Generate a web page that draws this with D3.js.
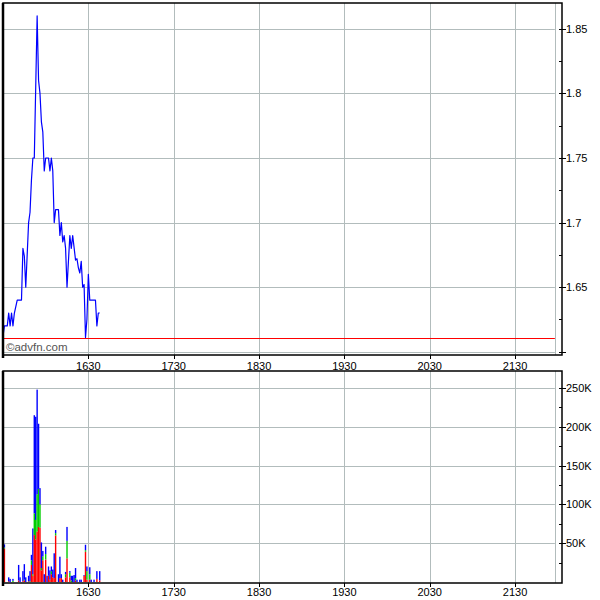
<!DOCTYPE html>
<html><head><meta charset="utf-8">
<script src="https://cdn.jsdelivr.net/npm/d3@7"></script>
<style>body{margin:0;background:#fff} svg{display:block}</style>
</head><body>
<svg id="chart" width="600" height="600"></svg>
<script>
// ---------- data ----------
const priceTimes = ["15:30","15:31","15:33","15:34","15:35","15:36","15:37","15:38","15:39","15:40","15:43","15:44","15:45","15:46","15:48","15:49","15:50","15:51","15:52","15:54","15:55","15:56","15:57","15:58","15:59","16:00","16:02","16:03","16:04","16:05","16:06","16:07","16:09","16:10","16:11","16:12","16:13","16:14","16:15","16:17","16:18","16:19","16:21","16:22","16:23","16:24","16:25","16:26","16:27","16:28","16:29","16:30","16:31","16:33","16:35","16:36","16:37","16:38"];
const prices = [1.612,1.62,1.62,1.63,1.62,1.63,1.62,1.63,1.635,1.64,1.64,1.68,1.674,1.65,1.70,1.708,1.733,1.75,1.75,1.86,1.81,1.80,1.778,1.77,1.74,1.75,1.75,1.74,1.75,1.74,1.70,1.71,1.71,1.69,1.70,1.685,1.69,1.68,1.65,1.69,1.68,1.69,1.671,1.672,1.665,1.661,1.67,1.65,1.652,1.611,1.625,1.66,1.64,1.64,1.64,1.62,1.63,1.63];

const volTimes = ["15:31","15:34","15:35","15:37","15:41","15:42","15:44","15:45","15:46","15:48","15:49","15:50","15:51","15:52","15:53","15:54","15:55","15:56","15:57","15:58","15:59","16:00","16:01","16:02","16:03","16:04","16:05","16:06","16:07","16:09","16:10","16:11","16:12","16:14","16:15","16:17","16:18","16:19","16:20","16:21","16:22","16:24","16:25","16:27","16:28","16:29","16:31","16:32","16:34","16:36","16:38"];
const volRed   = [43000,1000,0,0,2000,0,1000,2000,0,1000,0,22000,8000,60500,55000,65000,71000,70000,15000,28000,0,29000,0,8000,3000,10000,6000,5000,60000,0,5000,5000,0,6000,30500,6000,0,0,0,2000,0,0,0,8000,39000,3000,3000,0,0,4000,2000];
const volGreen = [1500,0,0,1500,0,0,0,1000,0,0,1000,6000,2000,28000,25000,48000,49000,30000,3000,5000,0,7000,0,0,0,4000,0,0,3000,0,0,0,0,4000,22500,6000,2000,0,0,3000,0,0,0,0,2000,11000,7000,0,0,0,0];
const volBlue  = [4000,5000,4000,2500,20000,6000,13000,20000,6000,7000,13000,7000,59000,126500,133000,135000,84000,21000,33000,7000,10000,9500,8000,12000,12000,6000,10000,32000,4000,10000,27600,5000,3000,3000,18000,2000,6000,8000,9000,13000,3000,3000,3000,1000,7000,6000,9000,3000,3000,10000,12000];

const xTickTimes = ["16:30","17:30","18:30","19:30","20:30","21:30"];
const xTickLabels = ["1630","1730","1830","1930","2030","2130"];
const sessionEnd = "21:58";
const priceTicks = [1.60,1.65,1.70,1.75,1.80,1.85];
const priceLabels = ["","1.65","1.7","1.75","1.8","1.85"];
const priceMinor = [1.625,1.675,1.725,1.775,1.825,1.85];
const volTicks = [50000,100000,150000,200000,250000];
const volLabels = ["50K","100K","150K","200K","250K"];
const volMinor = [25000,75000,125000,175000,225000];
const prevClose = 1.611;
const watermark = "©advfn.com";

// ---------- setup ----------
const parse = d3.timeParse("%H:%M");
const svg = d3.select("#chart");
const L = 3, R = 562;
const top1 = 3, bot1 = 355, top2 = 371, bot2 = 583;
const gridCol = "#b2bcbc";
const font = "Arial, 'Liberation Sans', sans-serif";

const x = d3.scaleTime().domain([parse("15:30"), parse("22:03")]).range([L, R]);
const yP = d3.scaleLinear().domain([1.5975, 1.870]).range([bot1, top1]);
const yV = d3.scaleLinear().domain([-1300, 272000]).range([bot2, top2]);

function panel(yTop, yBot) {
  const g = svg.append("g");
  // vertical gridlines
  g.selectAll(".vg").data(xTickTimes.concat([sessionEnd])).join("line")
    .attr("x1", d => Math.round(x(parse(d))) + 0.5).attr("x2", d => Math.round(x(parse(d))) + 0.5)
    .attr("y1", yTop).attr("y2", yBot)
    .attr("stroke", gridCol).attr("stroke-width", 1);
  return g;
}

// ---------- price panel ----------
const g1 = panel(top1, bot1);
g1.selectAll(".hg").data(priceTicks).join("line")
  .attr("x1", L).attr("x2", x(parse(sessionEnd)))
  .attr("y1", d => Math.round(yP(d)) + 0.5).attr("y2", d => Math.round(yP(d)) + 0.5)
  .attr("stroke", gridCol);

// previous close line
g1.append("line")
  .attr("x1", L).attr("x2", x(parse(sessionEnd)))
  .attr("y1", Math.round(yP(prevClose)) + 0.5).attr("y2", Math.round(yP(prevClose)) + 0.5)
  .attr("stroke", "#ff0000").attr("stroke-width", 1.2);

// price line
const line = d3.line().x((d, i) => x(parse(priceTimes[i]))).y(d => yP(d));
g1.append("path").datum(prices).attr("d", line)
  .attr("fill", "none").attr("stroke", "#0000ff").attr("stroke-width", 1.2)
  .attr("stroke-linejoin", "round");

// watermark
g1.append("text").attr("x", 6).attr("y", 351).text(watermark)
  .attr("font-family", font).attr("font-size", 11.5).attr("fill", "#555");

// frame
g1.append("rect").attr("x", L).attr("y", top1).attr("width", R - L).attr("height", bot1 - top1)
  .attr("fill", "none").attr("stroke", "#000").attr("stroke-width", 1.5);
g1.append("line").attr("x1", L).attr("x2", L).attr("y1", top1).attr("y2", bot1 + 3)
  .attr("stroke", "#000").attr("stroke-width", 2.5);

// right axis ticks and labels
g1.selectAll(".mt").data(priceTicks).join("line")
  .attr("x1", R - 3).attr("x2", R + 4)
  .attr("y1", d => Math.round(yP(d)) + 0.5).attr("y2", d => Math.round(yP(d)) + 0.5)
  .attr("stroke", "#000");
g1.selectAll(".nt").data(priceMinor).join("line")
  .attr("x1", R - 3).attr("x2", R)
  .attr("y1", d => Math.round(yP(d)) + 0.5).attr("y2", d => Math.round(yP(d)) + 0.5)
  .attr("stroke", "#000");
g1.selectAll(".pl").data(priceTicks).join("text")
  .attr("x", R + 4).attr("y", d => yP(d) + 4).text((d, i) => priceLabels[i])
  .attr("font-family", font).attr("font-size", 11).attr("fill", "#000");

// bottom axis ticks + labels
g1.selectAll(".bt").data(xTickTimes).join("line")
  .attr("x1", d => Math.round(x(parse(d))) + 0.5).attr("x2", d => Math.round(x(parse(d))) + 0.5)
  .attr("y1", bot1).attr("y2", bot1 + 4).attr("stroke", "#000");
g1.selectAll(".bl").data(xTickTimes).join("text")
  .attr("x", d => x(parse(d))).attr("y", bot1 + 15).attr("text-anchor", "middle")
  .text((d, i) => xTickLabels[i])
  .attr("font-family", font).attr("font-size", 11).attr("fill", "#000");

// ---------- volume panel ----------
const g2 = panel(top2, bot2);
g2.selectAll(".hg").data(volTicks).join("line")
  .attr("x1", L).attr("x2", x(parse(sessionEnd)))
  .attr("y1", d => Math.round(yV(d)) + 0.5).attr("y2", d => Math.round(yV(d)) + 0.5)
  .attr("stroke", gridCol);

const bw = 1.4;
const bars = g2.append("g");
volTimes.forEach((t, i) => {
  const cx = x(parse(t));
  const r = volRed[i], gr = volGreen[i], b = volBlue[i];
  const segs = [[0, r, "#ff0000"], [r, r + gr, "#00cc00"], [r + gr, r + gr + b, "#0000ff"]];
  segs.forEach(([a, c, col]) => {
    if (c > a) bars.append("rect")
      .attr("x", cx - bw / 2).attr("width", bw)
      .attr("y", yV(c)).attr("height", yV(a) - yV(c))
      .attr("fill", col);
  });
});

g2.append("rect").attr("x", L).attr("y", top2).attr("width", R - L).attr("height", bot2 - top2)
  .attr("fill", "none").attr("stroke", "#000").attr("stroke-width", 1.5);
g2.append("line").attr("x1", L).attr("x2", L).attr("y1", top2).attr("y2", bot2 + 3)
  .attr("stroke", "#000").attr("stroke-width", 2.5);

g2.selectAll(".mt").data(volTicks).join("line")
  .attr("x1", R - 3).attr("x2", R + 4)
  .attr("y1", d => Math.round(yV(d)) + 0.5).attr("y2", d => Math.round(yV(d)) + 0.5)
  .attr("stroke", "#000");
g2.selectAll(".nt").data(volMinor).join("line")
  .attr("x1", R - 3).attr("x2", R)
  .attr("y1", d => Math.round(yV(d)) + 0.5).attr("y2", d => Math.round(yV(d)) + 0.5)
  .attr("stroke", "#000");
g2.selectAll(".vl").data(volTicks).join("text")
  .attr("x", R + 4).attr("y", d => yV(d) + 4).text((d, i) => volLabels[i])
  .attr("font-family", font).attr("font-size", 11).attr("fill", "#000");

g2.selectAll(".bt").data(xTickTimes).join("line")
  .attr("x1", d => Math.round(x(parse(d))) + 0.5).attr("x2", d => Math.round(x(parse(d))) + 0.5)
  .attr("y1", bot2).attr("y2", bot2 + 4).attr("stroke", "#000");
g2.selectAll(".bl").data(xTickTimes).join("text")
  .attr("x", d => x(parse(d))).attr("y", bot2 + 13).attr("text-anchor", "middle")
  .text((d, i) => xTickLabels[i])
  .attr("font-family", font).attr("font-size", 11).attr("fill", "#000");
</script>
</body></html>
